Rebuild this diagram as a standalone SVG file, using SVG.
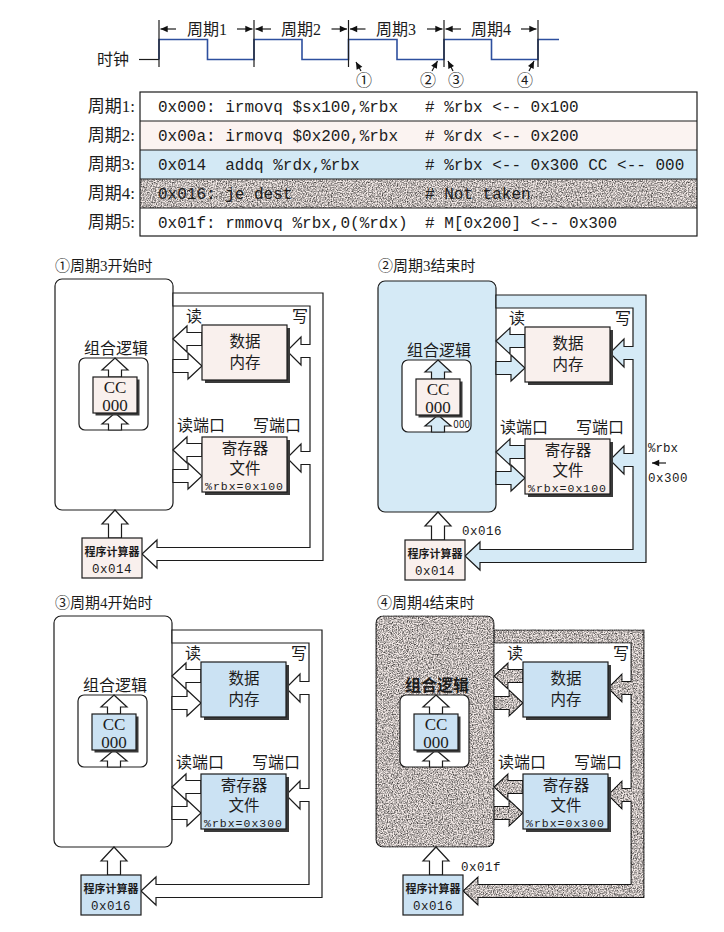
<svg xmlns="http://www.w3.org/2000/svg" width="724" height="932" viewBox="0 0 724 932">
<defs>
<style>
.w{fill:#fff;stroke:#1c1c1c;stroke-width:1.2}
.pk{fill:#f9f0ed;stroke:#1c1c1c;stroke-width:1.2}
.lb{fill:#d5eaf6;stroke:#1c1c1c;stroke-width:1.2}
.bx{fill:#cbe2f3;stroke:#1c1c1c;stroke-width:1.2}
.gr{fill:#f4ebe8;stroke:#1c1c1c;stroke-width:1.2}
.sh{fill:#3a3a3a}
.ln{fill:none;stroke:#1c1c1c;stroke-width:1.2}
.clk{fill:none;stroke:#2d4f9e;stroke-width:1.6}
.cn{font-family:"Noto Sans CJK SC",sans-serif;fill:#1c1c1c}
.sf{font-family:"Liberation Serif","Noto Sans CJK SC",serif;fill:#1c1c1c}
.mo{font-family:"Liberation Mono",monospace;fill:#1c1c1c}
.mid{text-anchor:middle}
.end{text-anchor:end}
</style>
<filter id="grain" x="-5%" y="-5%" width="110%" height="110%" color-interpolation-filters="sRGB">
<feTurbulence type="fractalNoise" baseFrequency="0.8" numOctaves="3" seed="5" result="n"/>
<feColorMatrix in="n" type="matrix" values="1.5 0 0 0 0.02  1.5 0 0 0 0.02  1.5 0 0 0 0.02  0 0 0 0 1" result="g"/>
<feBlend in="SourceGraphic" in2="g" mode="multiply" result="m"/>
<feComposite in="m" in2="SourceGraphic" operator="in"/>
</filter>
<marker id="ah" viewBox="0 0 10 10" refX="10" refY="5" markerWidth="7" markerHeight="6" orient="auto"><path d="M0,0.5 L10,5 L0,9.5 Z" fill="#111"/></marker>
<!-- shared wide-arrow shapes, in the coordinates of the first panel -->
<path id="pipe" d="M173,293 H323 V560.5 H157 V568 L142,554 L157,540 V547.5 H310 V464.5 H301 V472 L287,458 L301,444 V451.5 H310 V357.5 H301 V365 L287,351 L301,337 V344.5 H310 V306 H173 Z"/>
<path id="rdM" d="M173,339 L187,326 V332.5 H202 V345.5 H187 V352 Z"/>
<path id="wrM" d="M173,359.5 H188 V353 L202,366 L188,379 V372.5 H173 Z"/>
<path id="rdR" d="M173,450 L187,437 V443.5 H202 V456.5 H187 V463 Z"/>
<path id="wrR" d="M173,469.5 H188 V463 L202,476 L188,489 V482.5 H173 Z"/>
<path id="upT" d="M115,358 L128,370 H121.5 V377 H108.5 V370 H102 Z"/>
<path id="upB" d="M115,413 L128,424 H121.5 V430 H108.5 V424 H102 Z"/>
<path id="upPC" d="M115,510 L128,524 H121.5 V538 H108.5 V524 H102 Z"/>
</defs>
<rect x="0" y="0" width="724" height="932" fill="#fff"/>

<!-- clock -->
<g id="clock">
<text class="cn" x="97" y="65" font-size="16">时钟</text>
<line class="ln" x1="139" y1="59.5" x2="159" y2="59.5"/>
<path class="clk" d="M159,59.5 V39.5 H207.5 V59.5 H254 V39.5 H302 V59.5 H348.5 V39.5 H397 V59.5 H444 V39.5 H491.5 V59.5 H538 V39.5 H559"/>
<g class="ln">
<line x1="159" y1="20" x2="159" y2="67"/>
<line x1="254" y1="20" x2="254" y2="67"/>
<line x1="348.5" y1="20" x2="348.5" y2="67"/>
<line x1="444" y1="20" x2="444" y2="67"/>
<line x1="538" y1="20" x2="538" y2="67"/>
</g>
<g class="ln" marker-end="url(#ah)">
<line x1="176" y1="29" x2="160.5" y2="29"/><line x1="237" y1="29" x2="252.5" y2="29"/>
<line x1="271" y1="29" x2="255.5" y2="29"/><line x1="331.5" y1="29" x2="347" y2="29"/>
<line x1="365.5" y1="29" x2="350" y2="29"/><line x1="427" y1="29" x2="442.5" y2="29"/>
<line x1="461" y1="29" x2="445.5" y2="29"/><line x1="521" y1="29" x2="536.5" y2="29"/>
</g>
<g class="sf mid" font-size="16">
<text x="207" y="35">周期1</text>
<text x="301" y="35">周期2</text>
<text x="396" y="35">周期3</text>
<text x="491" y="35">周期4</text>
</g>
<g class="ln" marker-end="url(#ah)">
<line x1="361" y1="71" x2="356" y2="62"/>
<line x1="432" y1="71" x2="437.5" y2="61"/>
<line x1="453" y1="71" x2="448" y2="61"/>
<line x1="529" y1="71" x2="534" y2="61"/>
</g>
<g class="sf mid" font-size="16">
<text x="364" y="86">①</text>
<text x="428" y="86">②</text>
<text x="456" y="86">③</text>
<text x="525" y="86">④</text>
</g>
</g>

<!-- instruction table -->
<g id="program">
<rect x="140" y="92" width="557" height="144" fill="#fff"/>
<rect x="140" y="121" width="557" height="29" fill="#fbf3f1"/>
<rect x="140" y="150" width="557" height="29" fill="#d3e9f5"/>
<rect x="140" y="179" width="557" height="29" fill="#f4ebe8" filter="url(#grain)"/>
<rect class="ln" x="140" y="92" width="557" height="144"/>
<g class="ln">
<line x1="140" y1="121" x2="697" y2="121"/>
<line x1="140" y1="150" x2="697" y2="150"/>
<line x1="140" y1="179" x2="697" y2="179"/>
<line x1="140" y1="208" x2="697" y2="208"/>
</g>
<g class="sf end" font-size="17">
<text x="135" y="112">周期1:</text>
<text x="135" y="141">周期2:</text>
<text x="135" y="170">周期3:</text>
<text x="135" y="199">周期4:</text>
<text x="135" y="228">周期5:</text>
</g>
<g class="mo" font-size="16">
<text x="158" y="112">0x000: irmovq $sx100,%rbx</text><text x="425" y="112"># %rbx &lt;-- 0x100</text>
<text x="158" y="141">0x00a: irmovq $0x200,%rbx</text><text x="425" y="141"># %rdx &lt;-- 0x200</text>
<text x="158" y="170">0x014&#160; addq %rdx,%rbx</text><text x="425" y="170"># %rbx &lt;-- 0x300 CC &lt;-- 000</text>
<text x="158" y="199">0x016: je dest</text><text x="425" y="199"># Not taken</text>
<text x="158" y="228">0x01f: rmmovq %rbx,0(%rdx)</text><text x="425" y="228"># M[0x200] &lt;-- 0x300</text>
</g>
</g>

<!-- panel 1: start of cycle 3 -->
<g id="panel1">
<text class="sf" x="55" y="271" font-size="15">①周期3开始时</text>
<g id="p1-logic">
<rect class="w" x="55" y="279" width="118" height="231" rx="7"/>
<text class="cn mid" x="116" y="354" font-size="16">组合逻辑</text>
<rect class="w" x="79" y="358" width="69" height="72" rx="6"/>
</g>
<g id="p1-links">
<use href="#pipe" class="w"/>
<use href="#rdM" class="w"/><use href="#wrM" class="w"/>
<use href="#rdR" class="w"/><use href="#wrR" class="w"/>
<use href="#upT" class="w"/><use href="#upB" class="w"/><use href="#upPC" class="w"/>
<g class="cn" font-size="16">
<text x="186" y="322">读</text><text x="292" y="322">写</text>
<text x="177" y="431">读端口</text><text x="253" y="431">写端口</text>
</g>
</g>
<g id="p1-mem">
<rect class="sh" x="205" y="328" width="85" height="55"/>
<rect class="pk" x="202" y="325" width="85" height="55"/>
<text class="cn mid" x="245" y="347" font-size="15.5">数据</text>
<text class="cn mid" x="245" y="368" font-size="15.5">内存</text>
</g>
<g id="p1-reg">
<rect class="sh" x="205" y="440" width="85" height="55"/>
<rect class="pk" x="202" y="437" width="85" height="55"/>
<text class="cn mid" x="245" y="454" font-size="15.5">寄存器</text>
<text class="cn mid" x="245" y="474" font-size="15.5">文件</text>
<text class="mo" x="205" y="489.5" font-size="11.5" textLength="78" lengthAdjust="spacing">%rbx=0x100</text>
</g>
<g id="p1-cc">
<rect class="sh" x="95.5" y="379.5" width="44" height="36"/>
<rect class="pk" x="93" y="377" width="44" height="36"/>
<text class="sf mid" x="115" y="393" font-size="17">CC</text>
<text class="sf mid" x="115" y="411" font-size="17">000</text>
</g>
<g id="p1-pc">
<rect class="pk" x="82" y="538" width="60" height="40"/>
<text class="cn mid" x="112" y="556" font-size="11" font-weight="700">程序计算器</text>
<text class="mo mid" x="112" y="573" font-size="12.5" letter-spacing="0.5">0x014</text>
</g>
</g>

<!-- panel 2: end of cycle 3 -->
<g id="panel2" transform="translate(323,2)">
<text class="sf" x="55" y="269" font-size="15">②周期3结束时</text>
<g id="p2-logic">
<rect class="lb" x="55" y="279" width="118" height="231" rx="7"/>
<text class="cn mid" x="116" y="354" font-size="16">组合逻辑</text>
<rect class="w" x="79" y="358" width="69" height="72" rx="6"/>
</g>
<g id="p2-links">
<use href="#pipe" class="lb"/>
<use href="#rdM" class="lb"/><use href="#wrM" class="lb"/>
<use href="#rdR" class="lb"/><use href="#wrR" class="lb"/>
<use href="#upT" class="lb"/><use href="#upB" class="lb"/><use href="#upPC" class="w"/>
<g class="cn" font-size="16">
<text x="186" y="322">读</text><text x="292" y="322">写</text>
<text x="177" y="431">读端口</text><text x="253" y="431">写端口</text>
</g>
<text class="cn end" x="147" y="426" font-size="10">000</text>
<text class="mo" x="139" y="533" font-size="12.5" letter-spacing="0.5">0x016</text>
<text class="mo" x="325" y="450" font-size="12.5">%rbx</text>
<line class="ln" x1="343" y1="461" x2="329" y2="461" stroke-width="1.6" marker-end="url(#ah)"/>
<text class="mo" x="325" y="480" font-size="12.5" letter-spacing="0.5">0x300</text>
</g>
<g id="p2-mem">
<rect class="sh" x="205" y="328" width="85" height="55"/>
<rect class="pk" x="202" y="325" width="85" height="55"/>
<text class="cn mid" x="245" y="347" font-size="15.5">数据</text>
<text class="cn mid" x="245" y="368" font-size="15.5">内存</text>
</g>
<g id="p2-reg">
<rect class="sh" x="205" y="440" width="85" height="55"/>
<rect class="pk" x="202" y="437" width="85" height="55"/>
<text class="cn mid" x="245" y="454" font-size="15.5">寄存器</text>
<text class="cn mid" x="245" y="474" font-size="15.5">文件</text>
<text class="mo" x="205" y="489.5" font-size="11.5" textLength="78" lengthAdjust="spacing">%rbx=0x100</text>
</g>
<g id="p2-cc">
<rect class="sh" x="95.5" y="379.5" width="44" height="36"/>
<rect class="pk" x="93" y="377" width="44" height="36"/>
<text class="sf mid" x="115" y="393" font-size="17">CC</text>
<text class="sf mid" x="115" y="411" font-size="17">000</text>
</g>
<g id="p2-pc">
<rect class="pk" x="82" y="538" width="60" height="40"/>
<text class="cn mid" x="112" y="556" font-size="11" font-weight="700">程序计算器</text>
<text class="mo mid" x="112" y="573" font-size="12.5" letter-spacing="0.5">0x014</text>
</g>
</g>

<!-- panel 3: start of cycle 4 -->
<g id="panel3" transform="translate(-1,337)">
<text class="sf" x="56" y="271" font-size="15">③周期4开始时</text>
<g id="p3-logic">
<rect class="w" x="55" y="279" width="118" height="231" rx="7"/>
<text class="cn mid" x="116" y="354" font-size="16">组合逻辑</text>
<rect class="w" x="79" y="358" width="69" height="72" rx="6"/>
</g>
<g id="p3-links">
<use href="#pipe" class="w"/>
<use href="#rdM" class="w"/><use href="#wrM" class="w"/>
<use href="#rdR" class="w"/><use href="#wrR" class="w"/>
<use href="#upT" class="w"/><use href="#upB" class="w"/><use href="#upPC" class="w"/>
<g class="cn" font-size="16">
<text x="186" y="322">读</text><text x="292" y="322">写</text>
<text x="177" y="431">读端口</text><text x="253" y="431">写端口</text>
</g>
</g>
<g id="p3-mem">
<rect class="sh" x="205" y="328" width="85" height="55"/>
<rect class="bx" x="202" y="325" width="85" height="55"/>
<text class="cn mid" x="245" y="347" font-size="15.5">数据</text>
<text class="cn mid" x="245" y="368" font-size="15.5">内存</text>
</g>
<g id="p3-reg">
<rect class="sh" x="205" y="440" width="85" height="55"/>
<rect class="bx" x="202" y="437" width="85" height="55"/>
<text class="cn mid" x="245" y="454" font-size="15.5">寄存器</text>
<text class="cn mid" x="245" y="474" font-size="15.5">文件</text>
<text class="mo" x="205" y="489.5" font-size="11.5" textLength="78" lengthAdjust="spacing">%rbx=0x300</text>
</g>
<g id="p3-cc">
<rect class="sh" x="95.5" y="379.5" width="44" height="36"/>
<rect class="bx" x="93" y="377" width="44" height="36"/>
<text class="sf mid" x="115" y="393" font-size="17">CC</text>
<text class="sf mid" x="115" y="411" font-size="17">000</text>
</g>
<g id="p3-pc">
<rect class="bx" x="82" y="538" width="60" height="40"/>
<text class="cn mid" x="112" y="556" font-size="11" font-weight="700">程序计算器</text>
<text class="mo mid" x="112" y="573" font-size="12.5" letter-spacing="0.5">0x016</text>
</g>
</g>

<!-- panel 4: end of cycle 4 -->
<g id="panel4" transform="translate(321,337)">
<text class="sf" x="56" y="271" font-size="15">④周期4结束时</text>
<g id="p4-logic">
<rect class="gr" x="55" y="279" width="118" height="231" rx="7" filter="url(#grain)"/>
<text class="cn mid" x="116" y="354" font-size="16" font-weight="700">组合逻辑</text>
<rect class="w" x="79" y="358" width="69" height="72" rx="6"/>
</g>
<g id="p4-links">
<use href="#pipe" class="gr" filter="url(#grain)"/>
<use href="#rdM" class="gr" filter="url(#grain)"/><use href="#wrM" class="gr" filter="url(#grain)"/>
<use href="#rdR" class="gr" filter="url(#grain)"/><use href="#wrR" class="gr" filter="url(#grain)"/>
<use href="#upT" class="w"/><use href="#upB" class="w"/><use href="#upPC" class="w"/>
<g class="cn" font-size="16">
<text x="186" y="322">读</text><text x="292" y="322">写</text>
<text x="177" y="431">读端口</text><text x="253" y="431">写端口</text>
</g>
<text class="mo" x="140" y="534" font-size="12.5" letter-spacing="0.5">0x01f</text>
</g>
<g id="p4-mem">
<rect class="sh" x="205" y="328" width="85" height="55"/>
<rect class="bx" x="202" y="325" width="85" height="55"/>
<text class="cn mid" x="245" y="347" font-size="15.5">数据</text>
<text class="cn mid" x="245" y="368" font-size="15.5">内存</text>
</g>
<g id="p4-reg">
<rect class="sh" x="205" y="440" width="85" height="55"/>
<rect class="bx" x="202" y="437" width="85" height="55"/>
<text class="cn mid" x="245" y="454" font-size="15.5">寄存器</text>
<text class="cn mid" x="245" y="474" font-size="15.5">文件</text>
<text class="mo" x="205" y="489.5" font-size="11.5" textLength="78" lengthAdjust="spacing">%rbx=0x300</text>
</g>
<g id="p4-cc">
<rect class="sh" x="95.5" y="379.5" width="44" height="36"/>
<rect class="bx" x="93" y="377" width="44" height="36"/>
<text class="sf mid" x="115" y="393" font-size="17">CC</text>
<text class="sf mid" x="115" y="411" font-size="17">000</text>
</g>
<g id="p4-pc">
<rect class="bx" x="82" y="538" width="60" height="40"/>
<text class="cn mid" x="112" y="556" font-size="11" font-weight="700">程序计算器</text>
<text class="mo mid" x="112" y="573" font-size="12.5" letter-spacing="0.5">0x016</text>
</g>
</g>
</svg>
